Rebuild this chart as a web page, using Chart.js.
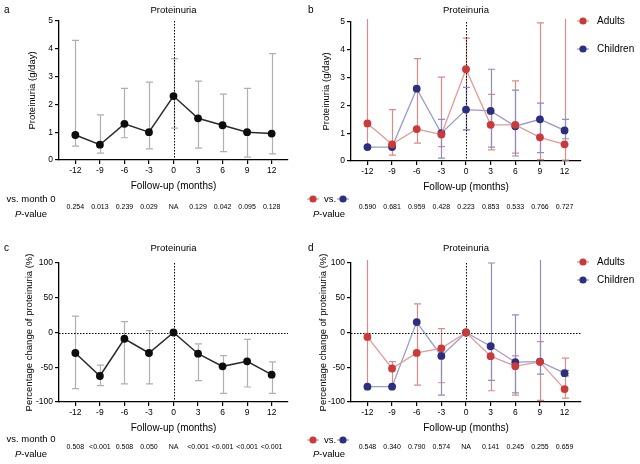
<!DOCTYPE html>
<html lang="en">
<head>
<meta charset="UTF-8">
<title>Proteinuria</title>
<script src="https://cdn.jsdelivr.net/npm/chart.js"></script>
<style>
  body { margin: 0; background: #fff; width: 640px; height: 464px; position: relative; overflow: hidden; }
  canvas { position: absolute; }
</style>
</head>
<body>
<canvas id="chartA" width="300" height="230" style="left:0;top:0"></canvas>
<canvas id="chartB" width="340" height="230" style="left:300px;top:0"></canvas>
<canvas id="chartC" width="300" height="234" style="left:0;top:230px"></canvas>
<canvas id="chartD" width="340" height="234" style="left:300px;top:230px"></canvas>

<script>
// follow-up months
const months = [-12, -9, -6, -3, 0, 3, 6, 9, 12];

// a: proteinuria (g/day), all patients
const protMean = [0.9, 0.55, 1.3, 1.0, 2.3, 1.5, 1.25, 1.0, 0.95];
const protLow = [0.5, 0.25, 0.8, 0.4, 1.15, 0.43, 0.3, 0.1, 0.22];
const protHigh = [4.3, 1.62, 2.58, 2.8, 3.65, 2.84, 2.37, 2.58, 3.83];
const protP = ['0.254', '0.013', '0.239', '0.029', 'NA', '0.129', '0.042', '0.095', '0.128'];

// b: proteinuria (g/day), adults vs children
const adultMean = [1.35, 0.6, 1.15, 0.95, 3.3, 1.3, 1.3, 0.85, 0.6];
const adultLow = [0.45, 0.21, 0.64, 0.52, 1.13, 0.4, 0.28, 0.05, 0.03];
const adultHigh = [6.5, 1.85, 3.68, 3.02, 4.42, 2.4, 2.88, 4.97, 6.5];
const childMean = [0.5, 0.5, 2.6, 1.0, 1.85, 1.8, 1.25, 1.5, 1.1];
const childLow = [null, null, null, 0.1, 1.12, 0.5, 0.18, 0.3, 0.8];
const childHigh = [null, null, null, 1.5, 2.65, 3.3, 2.55, 2.08, 1.5];
const groupP = ['0.590', '0.681', '0.959', '0.428', '0.223', '0.853', '0.533', '0.766', '0.727'];

// c: percentage change of proteinuria, all patients
const changeMean = [-29.5, -62.6, -9, -29.5, 0, -30.5, -48.7, -41.5, -60.7];
const changeLow = [-80.8, -76.5, -74, -74, null, -69.3, -87.5, -78.4, -87.5];
const changeHigh = [23.7, -46.8, 15.6, 2.6, null, -16.5, -33.3, -9.8, -42.4];
const changeP = ['0.508', '<0.001', '0.508', '0.050', 'NA', '<0.001', '<0.001', '<0.001', '<0.001'];

// d: percentage change, adults vs children
const adultChgMean = [-6.4, -51.8, -29.4, -22.7, 0, -34.1, -48.4, -42.2, -81.4];
const adultChgLow = [-78, -76, -75.7, -72.3, null, -83.8, -90, -97.6, -94.3];
const adultChgHigh = [140, -41.8, 41.3, 5.5, null, -18, -33.7, -13.1, -37];
const childChgMean = [-78, -78, 15, -33.7, 0, -19.8, -42.7, -41.9, -58.5];
const childChgLow = [null, null, null, -90, null, -69, -87, -60, -62.3];
const childChgHigh = [null, null, null, -22, null, 100, 25.5, 140, -54.6];
const groupChgP = ['0.548', '0.340', '0.790', '0.574', 'NA', '0.141', '0.245', '0.255', '0.659'];

const FONT = '"Liberation Sans", Arial, Helvetica, sans-serif';
Chart.defaults.font.family = FONT;
Chart.defaults.color = '#000';

const RED = '#c93a38', RED_LINE = '#e29a98', RED_BAR = '#dc8a88';
const BLUE = '#2c2f7f', BLUE_LINE = '#9a9bcb', BLUE_BAR = '#8c8dc2';
const BLACK = '#0d0d0d', BLACK_LINE = '#2b2b2b', GREY_BAR = '#b0b0b0';

const panelCfg = {};

function drawMarker(ctx, x, y, color, lineColor) {
    ctx.strokeStyle = lineColor;
    ctx.lineWidth = 1.3;
    ctx.beginPath();
    ctx.moveTo(x - 6, y);
    ctx.lineTo(x + 6, y);
    ctx.stroke();
    ctx.fillStyle = color;
    ctx.beginPath();
    ctx.arc(x, y, 3.6, 0, Math.PI * 2);
    ctx.fill();
}

const panelPlugin = {
    id: 'panel',
    beforeDatasetsDraw(chart) {
        const cfg = panelCfg[chart.canvas.id];
        const { ctx, chartArea: a, scales: { x, y } } = chart;
        ctx.save();

        // error bars (clipped to the plot)
        ctx.beginPath();
        ctx.rect(a.left, a.top - 3, a.right - a.left, a.bottom - a.top + 3);
        ctx.clip();
        chart.data.datasets.forEach(function (ds) {
            ctx.strokeStyle = ds.barColor;
            ctx.lineWidth = 1.2;
            months.forEach(function (m, i) {
                if (ds.low[i] == null) return;
                const px = Math.round(x.getPixelForValue(m)) + 0.5;
                const lo = y.getPixelForValue(ds.low[i]);
                const hi = y.getPixelForValue(ds.high[i]);
                ctx.beginPath();
                ctx.moveTo(px, lo); ctx.lineTo(px, hi);
                ctx.moveTo(px - 3.5, lo); ctx.lineTo(px + 3.5, lo);
                ctx.moveTo(px - 3.5, hi); ctx.lineTo(px + 3.5, hi);
                ctx.stroke();
            });
        });

        // dotted reference lines
        ctx.strokeStyle = '#000';
        ctx.lineWidth = 1;
        ctx.setLineDash([1.5, 1.5]);
        const x0 = Math.round(x.getPixelForValue(0)) + 0.5;
        ctx.beginPath();
        ctx.moveTo(x0, a.top);
        ctx.lineTo(x0, a.bottom);
        if (cfg.zeroLine) {
            const y0 = Math.round(y.getPixelForValue(0)) + 0.5;
            ctx.moveTo(a.left, y0);
            ctx.lineTo(a.right, y0);
        }
        ctx.stroke();
        ctx.restore();
    },
    afterDraw(chart) {
        const cfg = panelCfg[chart.canvas.id];
        const { ctx, chartArea: a, scales: { x } } = chart;
        ctx.save();
        ctx.fillStyle = '#000';
        ctx.textBaseline = 'middle';

        // panel letter and title
        ctx.font = '10px ' + FONT;
        ctx.textAlign = 'left';
        ctx.fillText(cfg.letter, cfg.letterX, cfg.titleY);
        ctx.font = '9.5px ' + FONT;
        ctx.textAlign = 'center';
        ctx.fillText('Proteinuria', (a.left + a.right) / 2, cfg.titleY);

        // legend
        if (cfg.legendY) {
            chart.data.datasets.forEach(function (ds, i) {
                drawMarker(ctx, cfg.legendX, cfg.legendY[i], ds.pointBackgroundColor, ds.borderColor);
                ctx.fillStyle = '#000';
                ctx.font = '10px ' + FONT;
                ctx.textAlign = 'left';
                ctx.fillText(ds.label, cfg.legendX + 14, cfg.legendY[i]);
            });
        }

        // p-value row
        ctx.fillStyle = '#000';
        if (cfg.vsGroups) {
            drawMarker(ctx, 13, cfg.rowY, RED, RED_LINE);
            drawMarker(ctx, 43, cfg.rowY, BLUE, BLUE_LINE);
            ctx.fillStyle = '#000';
            ctx.font = '9.5px ' + FONT;
            ctx.textAlign = 'center';
            ctx.fillText('vs.', 30, cfg.rowY);
        } else {
            ctx.font = '9.5px ' + FONT;
            ctx.textAlign = 'center';
            ctx.fillText('vs. month 0', cfg.labelX, cfg.rowY);
        }
        ctx.font = 'italic 9.5px ' + FONT;
        const wP = ctx.measureText('P').width;
        ctx.font = '9.5px ' + FONT;
        const wRest = ctx.measureText('-value').width;
        const start = cfg.labelX - (wP + wRest) / 2;
        ctx.textAlign = 'left';
        ctx.font = 'italic 9.5px ' + FONT;
        ctx.fillText('P', start, cfg.pY);
        ctx.font = '9.5px ' + FONT;
        ctx.fillText('-value', start + wP, cfg.pY);

        ctx.font = '7px ' + FONT;
        ctx.textAlign = 'center';
        months.forEach(function (m, i) {
            ctx.fillText(cfg.pValues[i], x.getPixelForValue(m), cfg.valY);
        });
        ctx.restore();
    }
};

function makePanel(id, cfg) {
    panelCfg[id] = cfg;
    return new Chart(document.getElementById(id), {
        type: 'line',
        data: {
            datasets: cfg.series.map(function (s) {
                return {
                    label: s.label,
                    data: months.map(function (m, i) { return { x: m, y: s.mean[i] }; }),
                    low: s.low,
                    high: s.high,
                    barColor: s.barColor,
                    borderColor: s.lineColor,
                    borderWidth: s.lineWidth,
                    pointRadius: 3.9,
                    pointHoverRadius: 3.9,
                    pointBorderWidth: 0,
                    pointBackgroundColor: s.color,
                    pointBorderColor: s.color,
                    tension: 0
                };
            })
        },
        options: {
            responsive: false,
            animation: false,
            events: [],
            layout: { padding: cfg.pad },
            scales: {
                x: {
                    type: 'linear', min: -14, max: 14,
                    afterBuildTicks: function (s) { s.ticks = months.map(function (v) { return { value: v }; }); },
                    afterFit: function (s) { s.height = 32; },
                    grid: { drawOnChartArea: false, color: '#000', tickLength: 4, lineWidth: 1.2 },
                    border: { color: '#000', width: 1.3 },
                    ticks: { color: '#000', font: { size: 8.5 }, padding: 2, maxRotation: 0, autoSkip: false },
                    title: { display: true, text: 'Follow-up (months)', color: '#000', font: { size: 10 }, padding: 0 }
                },
                y: {
                    min: cfg.yMin, max: cfg.yMax,
                    afterFit: function (s) { s.width = cfg.yWidth; },
                    grid: { drawOnChartArea: false, color: '#000', tickLength: 4, lineWidth: 1.2 },
                    border: { color: '#000', width: 1.3 },
                    ticks: { stepSize: cfg.yStep, color: '#000', font: { size: 8.5 }, padding: 2 },
                    title: { display: true, text: cfg.yTitle, color: '#000', font: { size: 9.5 }, padding: { top: cfg.yTitlePad, bottom: 0 } }
                }
            },
            plugins: { legend: { display: false }, tooltip: { enabled: false } }
        },
        plugins: [panelPlugin]
    });
}

makePanel('chartA', {
    letter: 'a', letterX: 4, titleY: 10,
    pad: { left: 0, top: 21, right: 12, bottom: 38 },
    yWidth: 59, yTitlePad: 27, yMin: 0, yMax: 5, yStep: 1, yTitle: 'Proteinuria (g/day)',
    rowY: 199, valY: 207, pY: 214, labelX: 31, pValues: protP,
    series: [{ label: 'All', mean: protMean, low: protLow, high: protHigh, color: BLACK, lineColor: BLACK_LINE, lineWidth: 1.5, barColor: GREY_BAR }]
});

makePanel('chartB', {
    letter: 'b', letterX: 8, titleY: 10,
    pad: { left: 0, top: 22, right: 59, bottom: 37 },
    yWidth: 51, yTitlePad: 21, yMin: 0, yMax: 5, yStep: 1, yTitle: 'Proteinuria (g/day)',
    legendX: 283, legendY: [21, 49],
    vsGroups: true, rowY: 199, valY: 207, pY: 214, labelX: 29, pValues: groupP,
    series: [
        { label: 'Adults', mean: adultMean, low: adultLow, high: adultHigh, color: RED, lineColor: RED_LINE, lineWidth: 1.3, barColor: RED_BAR },
        { label: 'Children', mean: childMean, low: childLow, high: childHigh, color: BLUE, lineColor: BLUE_LINE, lineWidth: 1.3, barColor: BLUE_BAR }
    ]
});

makePanel('chartC', {
    letter: 'c', letterX: 4, titleY: 18, zeroLine: true,
    pad: { left: 0, top: 33, right: 12, bottom: 30 },
    yWidth: 59, yTitlePad: 24, yMin: -100, yMax: 100, yStep: 50, yTitle: 'Percentage change of proteinuria (%)',
    rowY: 209, valY: 217, pY: 224, labelX: 31, pValues: changeP,
    series: [{ label: 'All', mean: changeMean, low: changeLow, high: changeHigh, color: BLACK, lineColor: BLACK_LINE, lineWidth: 1.5, barColor: GREY_BAR }]
});

makePanel('chartD', {
    letter: 'd', letterX: 8, titleY: 18, zeroLine: true,
    pad: { left: 0, top: 33, right: 59, bottom: 30 },
    yWidth: 51, yTitlePad: 18, yMin: -100, yMax: 100, yStep: 50, yTitle: 'Percentage change of proteinuria (%)',
    legendX: 283, legendY: [32, 50],
    vsGroups: true, rowY: 210, valY: 217, pY: 224, labelX: 29, pValues: groupChgP,
    series: [
        { label: 'Adults', mean: adultChgMean, low: adultChgLow, high: adultChgHigh, color: RED, lineColor: RED_LINE, lineWidth: 1.3, barColor: RED_BAR },
        { label: 'Children', mean: childChgMean, low: childChgLow, high: childChgHigh, color: BLUE, lineColor: BLUE_LINE, lineWidth: 1.3, barColor: BLUE_BAR }
    ]
});
</script>
</body>
</html>
